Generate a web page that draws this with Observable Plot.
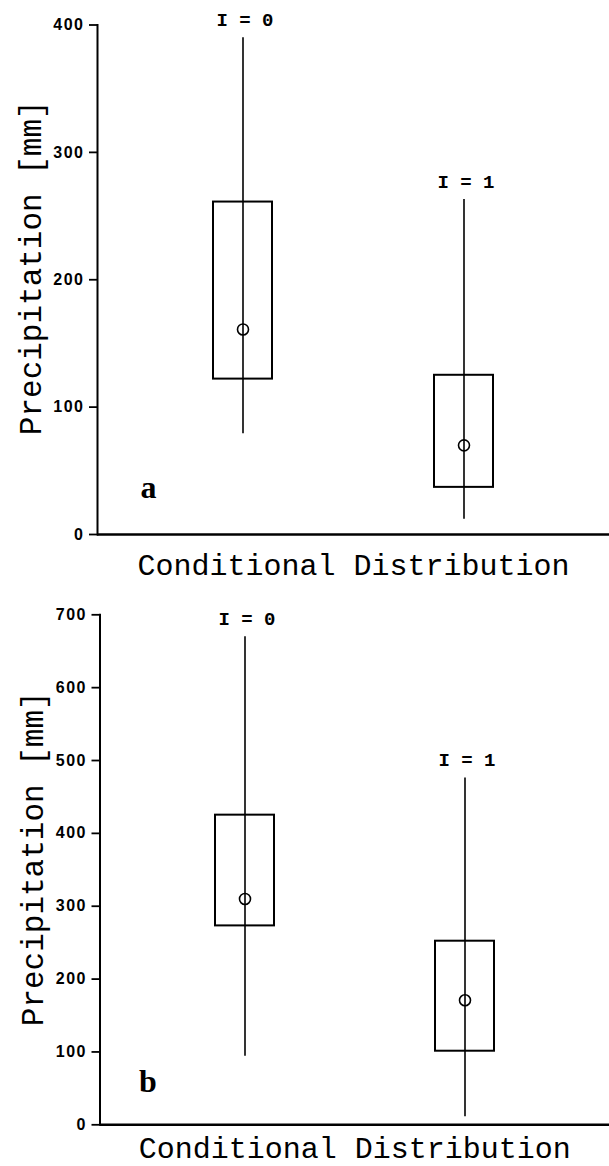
<!DOCTYPE html>
<html>
<head>
<meta charset="utf-8">
<script src="https://cdn.jsdelivr.net/npm/d3@7"></script>
<script src="https://cdn.jsdelivr.net/npm/@observablehq/plot@0.6"></script>
<style>
  html, body { margin: 0; padding: 0; background: #fff; }
  #chart svg { display: block; }
</style>
</head>
<body>
<div id="chart"></div>
<script>
// ---- data ----
const categories = ["I = 0", "I = 1"];
// panel a
const aLow    = [79, 12];
const aQ1     = [122, 37];
const aMedian = [161, 70];
const aQ3     = [261, 125];
const aHigh   = [390, 263];
const aTicks  = [0, 100, 200, 300, 400];
// panel b
const bLow    = [94, 11];
const bQ1     = [273, 101];
const bMedian = [310, 171];
const bQ3     = [425, 252];
const bHigh   = [670, 476];
const bTicks  = [0, 100, 200, 300, 400, 500, 600, 700];

const yLabel = "Precipitation [mm]";
const xLabel = "Conditional Distribution";

function panel({letter, low, q1, med, q3, high, ticks, height, mTop, mLeft, mBottom, letterDx, letterDy, xlabDy, ylabDx, ylabDy}) {
  const data = categories.map((c, i) => ({cat: c, low: low[i], q1: q1[i], med: med[i], q3: q3[i], high: high[i]}));
  const mono = "Liberation Mono, DejaVu Sans Mono, monospace";
  const svg = Plot.plot({
    width: 609,
    height,
    marginTop: mTop,
    marginLeft: mLeft,
    marginRight: 0,
    marginBottom: mBottom,
    style: {background: "white", color: "black", overflow: "visible"},
    x: {type: "band", domain: categories, paddingInner: 0.734, paddingOuter: 0.523, axis: null},
    y: {domain: [0, ticks[ticks.length - 1]], axis: null},
    marks: [
      Plot.axisY(ticks, {tickSize: 8, tickFormat: () => "", label: null, strokeWidth: 1.8}),
      Plot.text(ticks, {y: d => d, frameAnchor: "left", dx: -13, textAnchor: "end", lineAnchor: "middle",
        text: d => String(d), fontSize: 16, fontWeight: "bold", fontFamily: "Liberation Sans, Arial, sans-serif"}),
      Plot.frame({anchor: "left", strokeWidth: 2}),
      Plot.ruleY([0], {strokeWidth: 2.6}),
      Plot.barY(data, {x: "cat", y1: "q1", y2: "q3", fill: "none", stroke: "black", strokeWidth: 2}),
      Plot.ruleX(data, {x: "cat", y1: "low", y2: "high", stroke: "black", strokeWidth: 1.6}),
      Plot.dot(data, {x: "cat", y: "med", r: 5.5, stroke: "black", fill: "none", strokeWidth: 1.6}),
      Plot.text(data, {x: "cat", y: "high", text: "cat", dy: -18, dx: 2, lineAnchor: "middle", fontFamily: mono, fontWeight: "bold", fontSize: 19}),
      Plot.text([letter], {frameAnchor: "bottom-left", dx: letterDx, dy: letterDy, textAnchor: "start", lineAnchor: "bottom", fontFamily: "Liberation Serif, Times New Roman, serif", fontWeight: "bold", fontSize: 32}),
      Plot.text([xLabel], {frameAnchor: "bottom", dy: xlabDy, lineAnchor: "bottom", fontFamily: mono, fontSize: 30}),
      Plot.text([yLabel], {frameAnchor: "left", rotate: -90, dx: ylabDx, dy: ylabDy, textAnchor: "middle", lineAnchor: "bottom", fontFamily: mono, fontSize: 31})
    ]
  });
  d3.select(svg).selectAll("text")
    .filter(function() { return /^\d+$/.test(this.textContent); })
    .attr("letter-spacing", "1.5px");
  return svg;
}

const chart = document.getElementById("chart");
chart.appendChild(panel({
  letter: "a", low: aLow, q1: aQ1, med: aMedian, q3: aQ3, high: aHigh, ticks: aTicks,
  height: 590, mTop: 24.5, mLeft: 97, mBottom: 56,
  letterDx: 43, letterDy: -37, xlabDy: 40, ylabDx: -57, ylabDy: -12
}));
chart.appendChild(panel({
  letter: "b", low: bLow, q1: bQ1, med: bMedian, q3: bQ3, high: bHigh, ticks: bTicks,
  height: 576, mTop: 24.3, mLeft: 99.5, mBottom: 41.7,
  letterDx: 39, letterDy: -33, xlabDy: 33, ylabDx: -57.5, ylabDy: -11
}));
</script>
</body>
</html>
